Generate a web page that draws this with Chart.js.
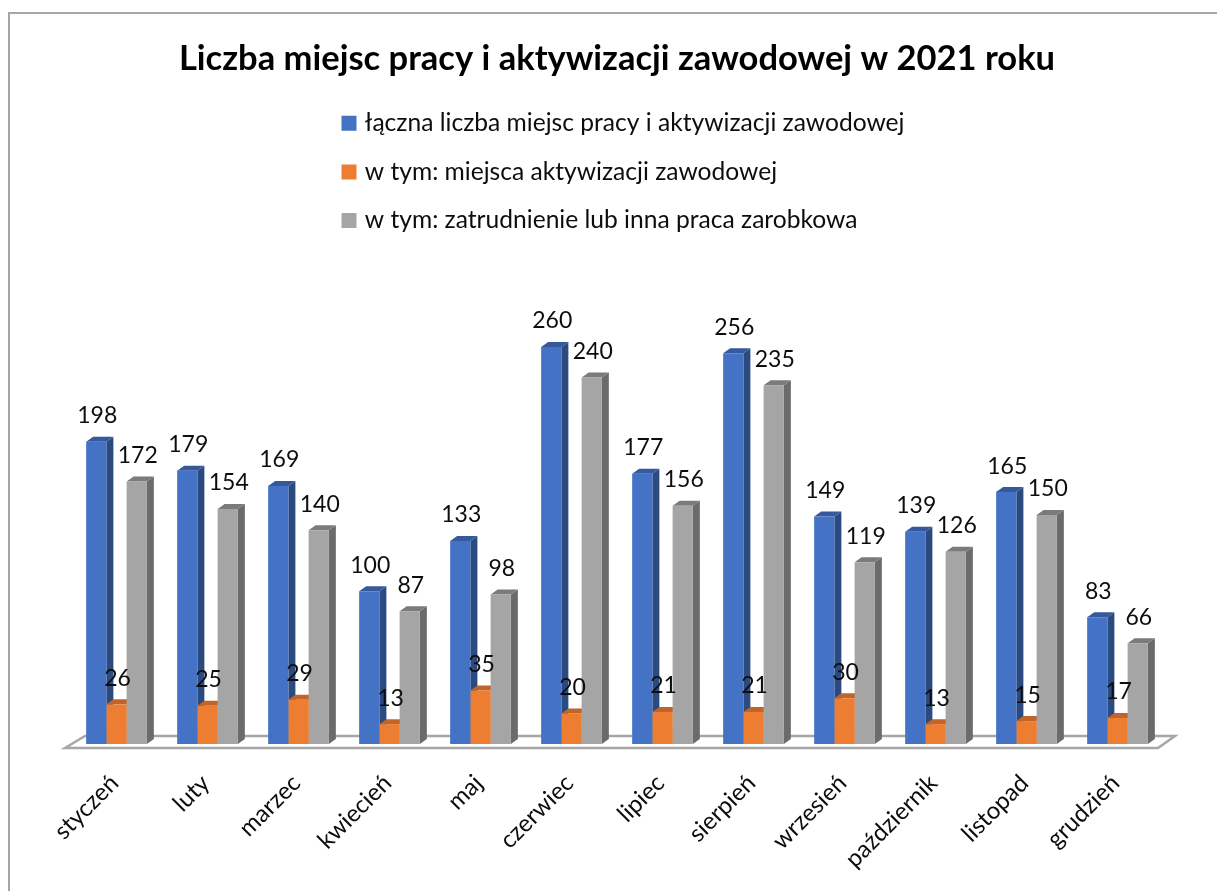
<!DOCTYPE html>
<html lang="pl"><head><meta charset="utf-8">
<style>
html,body{margin:0;padding:0;background:#fff;overflow:hidden;width:1217px;height:891px}
#frame{position:absolute;left:8px;top:12px;width:1218px;height:877px;border-left:2px solid #a6a6a6;border-top:2px solid #a6a6a6;box-sizing:content-box}
#frame canvas{display:block}
</style>
<script src="https://cdn.jsdelivr.net/npm/chart.js@4/dist/chart.umd.min.js"></script>
</head><body>
<div id="frame"><canvas id="c" width="1218" height="877"></canvas></div>
<script>
const FONT = 'Lato';
const titleText = 'Liczba miejsc pracy i aktywizacji zawodowej w 2021 roku';
const months = ['styczeń','luty','marzec','kwiecień','maj','czerwiec','lipiec','sierpień','wrzesień','październik','listopad','grudzień'];
const seriesNames = ['łączna liczba miejsc pracy i aktywizacji zawodowej','w tym: miejsca aktywizacji zawodowej','w tym: zatrudnienie lub inna praca zarobkowa'];
const total = [198,179,169,100,133,260,177,256,149,139,165,83];
const activation = [26,25,29,13,35,20,21,21,30,13,15,17];
const employment = [172,154,140,87,98,240,156,235,119,126,150,66];
const frontColors = ['#4472C4','#ED7D31','#A5A5A5'];
const sideColors = ['#2B4A80','#B35E24','#6B6B6B'];
const topColors = ['#35599C','#C0642A','#7B7B7B'];
const DX = 7, DY = 5;

function poly(ctx, pts, color){
  ctx.fillStyle = color; ctx.beginPath();
  pts.forEach((p,i)=> i?ctx.lineTo(p[0],p[1]):ctx.moveTo(p[0],p[1]));
  ctx.closePath(); ctx.fill();
}
const depth3d = {
  id:'depth3d',
  beforeDatasetsDraw(chart){
    const ctx = chart.ctx, a = chart.chartArea, base = chart.scales.y.getPixelForValue(0);
    ctx.save();
    ctx.strokeStyle = '#A6A6A6'; ctx.lineWidth = 2.5; ctx.lineJoin='miter';
    ctx.beginPath();
    ctx.moveTo(a.left-6, base+4); ctx.lineTo(a.left+14, base-8);
    ctx.lineTo(a.right+12, base-8); ctx.lineTo(a.right-5, base+4); ctx.closePath(); ctx.stroke();
    chart.data.datasets.forEach((ds,di)=>{
      chart.getDatasetMeta(di).data.forEach(b=>{
        const x1 = b.x-b.width/2, x2 = b.x+b.width/2, t = b.y, bt = b.base;
        poly(ctx,[[x2,t],[x2+DX,t-DY],[x2+DX,bt-DY],[x2,bt]],sideColors[di]);
        poly(ctx,[[x1,t],[x1+DX,t-DY],[x2+DX,t-DY],[x2,t]],topColors[di]);
      });
    });
    ctx.restore();
  },
  afterDatasetsDraw(chart){
    const ctx = chart.ctx;
    ctx.save();
    ctx.font = '23px '+FONT; ctx.fillStyle='#0d0d0d'; ctx.textAlign='center'; ctx.textBaseline='middle';
    chart.data.datasets.forEach((ds,di)=>{
      chart.getDatasetMeta(di).data.forEach((b,i)=>{
        ctx.fillText(String(ds.data[i]), b.x+1, b.y-26);
      });
    });
    ctx.restore();
  }
};
const placeLegend = {
  id:'placeLegend',
  afterLayout(chart){
    const l = chart.legend;
    l.left = 311.5; l.right = 311.5+l.width; l.top = 73; l.bottom = 73+l.height;
  }
};
new Chart(document.getElementById('c'),{
  type:'bar',
  data:{labels:months,datasets:[
    {label:seriesNames[0],data:total,backgroundColor:frontColors[0]},
    {label:seriesNames[1],data:activation,backgroundColor:frontColors[1]},
    {label:seriesNames[2],data:employment,backgroundColor:frontColors[2]}
  ]},
  plugins:[depth3d,placeLegend],
  options:{
    responsive:false,animation:false,
    layout:{padding:{left:61,right:65,top:0,bottom:0}},
    datasets:{bar:{barPercentage:1,categoryPercentage:0.667}},
    scales:{
      y:{display:false,min:0,max:300},
      x:{
        grid:{display:false},border:{display:false},
        ticks:{minRotation:45,maxRotation:45,autoSkip:false,padding:17,labelOffset:-2,color:'#0d0d0d',font:{family:FONT,size:24}},
        afterFit(s){s.height=147;}
      }
    },
    plugins:{
      tooltip:{enabled:false},
      title:{display:true,text:titleText,color:'#000',font:{family:FONT,size:34.5,weight:'bold',lineHeight:1.2},padding:{top:24.4,bottom:206.2}},
      legend:{position:'chartArea',align:'start',labels:{
        boxWidth:7,boxHeight:7,padding:24,color:'#0d0d0d',font:{family:FONT,size:24.6},
        generateLabels(chart){
          return Chart.defaults.plugins.legend.labels.generateLabels(chart).map((it,i)=>({...it,fillStyle:frontColors[i],strokeStyle:frontColors[i],lineWidth:8}));
        }
      }}
    }
  }
});
</script>
</body></html>
